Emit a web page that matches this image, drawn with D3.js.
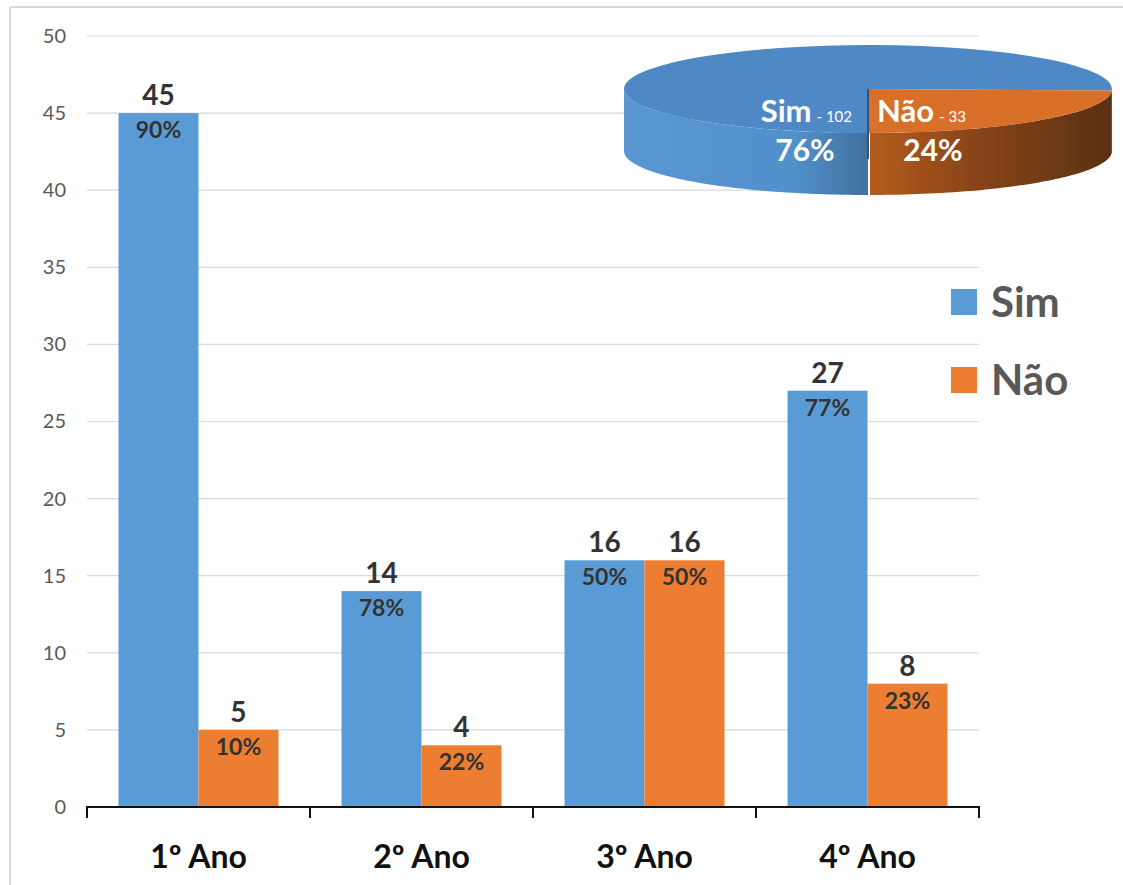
<!DOCTYPE html>
<html>
<head>
<meta charset="utf-8">
<script src="https://cdn.jsdelivr.net/npm/d3@7"></script>
<style>
  html, body { margin: 0; padding: 0; background: #fff; }
  svg { display: block; font-family: Lato, "Open Sans", sans-serif; }
</style>
</head>
<body>
<svg id="chart" width="1123" height="885"></svg>
<script>
// Respostas por ano
const categories = ["1º Ano", "2º Ano", "3º Ano", "4º Ano"];
const series = ["Sim", "Não"];
const simValues = [45, 14, 16, 27];
const naoValues = [5, 4, 16, 8];
const yTicks = [0, 5, 10, 15, 20, 25, 30, 35, 40, 45, 50];

// Totais gerais (pizza)
const totalLabels = ["Sim", "Não"];
const totalValues = [102, 33];

const colors = { "Sim": "#5b9bd5", "Não": "#ed7d31" };

const svg = d3.select("#chart");

// Moldura
svg.append("line").attr("x1", 10).attr("y1", 7).attr("x2", 10).attr("y2", 885)
  .attr("stroke", "#d9d9d9").attr("stroke-width", 2);
svg.append("line").attr("x1", 10).attr("y1", 7).attr("x2", 1123).attr("y2", 7)
  .attr("stroke", "#d9d9d9").attr("stroke-width", 2);

const x = d3.scaleBand().domain(categories).range([87, 979]).paddingInner(0).paddingOuter(0);
const xs = d3.scaleBand().domain(series).range([0, x.bandwidth()]).paddingInner(0).paddingOuter(0.394);
const y = d3.scaleLinear().domain([0, 50]).range([807, 36]);

// Grade
svg.append("g").selectAll("line").data(yTicks.filter(t => t > 0)).join("line")
  .attr("x1", 87).attr("x2", 979)
  .attr("y1", d => y(d)).attr("y2", d => y(d))
  .attr("stroke", "#d9d9d9").attr("stroke-width", 1.2);

// Eixo Y (rótulos)
const yAxis = svg.append("g").attr("transform", "translate(72,0)")
  .call(d3.axisLeft(y).tickValues(yTicks).tickSize(0).tickPadding(6));
yAxis.select(".domain").remove();
yAxis.selectAll("text").attr("font-size", 20).attr("fill", "#595959")
  .attr("font-family", "Lato, sans-serif");

// Barras
const rows = categories.map((c, i) => ({ cat: c, Sim: simValues[i], "Não": naoValues[i] }));
const barData = [];
rows.forEach(r => {
  const total = r.Sim + r["Não"];
  series.forEach(s => barData.push({ cat: r.cat, s, v: r[s], pct: Math.round(r[s] / total * 100) }));
});

const bars = svg.append("g");
bars.selectAll("rect").data(barData).join("rect")
  .attr("x", d => x(d.cat) + xs(d.s))
  .attr("width", xs.bandwidth())
  .attr("y", d => y(d.v))
  .attr("height", d => y(0) - y(d.v))
  .attr("fill", d => colors[d.s]);

// Valores acima das barras
bars.selectAll("text.val").data(barData).join("text").attr("class", "val")
  .attr("x", d => x(d.cat) + xs(d.s) + xs.bandwidth() / 2)
  .attr("y", d => y(d.v) - 8)
  .attr("text-anchor", "middle")
  .attr("font-size", 28).attr("font-weight", "bold").attr("fill", "#333")
  .text(d => d.v);

// Percentuais dentro das barras
bars.selectAll("text.pct").data(barData).join("text").attr("class", "pct")
  .attr("x", d => x(d.cat) + xs(d.s) + xs.bandwidth() / 2)
  .attr("y", d => y(d.v) + 25)
  .attr("text-anchor", "middle")
  .attr("font-size", 23).attr("font-weight", "bold").attr("fill", "#333")
  .text(d => d.pct + "%");

// Eixo X
const xAxis = svg.append("g").attr("transform", "translate(0,807)")
  .call(d3.axisBottom(x).tickSize(0).tickPadding(0));
xAxis.select(".domain").remove();
xAxis.selectAll("text").attr("font-size", 32).attr("font-weight", "bold").attr("fill", "#111")
  .attr("font-family", "Lato, sans-serif").attr("dy", 0).attr("y", 61);
svg.append("line").attr("x1", 87).attr("x2", 979).attr("y1", 807).attr("y2", 807)
  .attr("stroke", "#111").attr("stroke-width", 2);
const bounds = categories.map(c => x(c)).concat([x(categories[categories.length - 1]) + x.bandwidth()]);
svg.append("g").selectAll("line").data(bounds).join("line")
  .attr("x1", d => d).attr("x2", d => d).attr("y1", 806).attr("y2", 818)
  .attr("stroke", "#111").attr("stroke-width", 2);

// Legenda
const legend = svg.append("g");
series.forEach((s, i) => {
  const ly = 289 + i * 78;
  legend.append("rect").attr("x", 951).attr("y", ly).attr("width", 26).attr("height", 26).attr("fill", colors[s]);
  legend.append("text").attr("x", 991).attr("y", ly + 28)
    .attr("font-size", 42).attr("font-weight", "bold").attr("fill", "#595959").text(s);
});

// Pizza 3D
const cx = 868, cy = 89, rx = 244, ry = 44, depth = 62;
const pie = d3.pie().sort(null).value(d => d).startAngle(Math.PI).endAngle(3 * Math.PI);
const slices = pie(totalValues);
const topColors = ["#4f89c5", "#d8702a"];

const defs = svg.append("defs");
const gBlue = defs.append("linearGradient").attr("id", "sideSim").attr("x1", 0).attr("x2", 1).attr("y1", 0).attr("y2", 0);
gBlue.append("stop").attr("offset", "0%").attr("stop-color", "#5a97d2");
gBlue.append("stop").attr("offset", "70%").attr("stop-color", "#5190cb");
gBlue.append("stop").attr("offset", "100%").attr("stop-color", "#41709d");
const gOr = defs.append("linearGradient").attr("id", "sideNao").attr("x1", 0).attr("x2", 1).attr("y1", 0).attr("y2", 0);
gOr.append("stop").attr("offset", "0%").attr("stop-color", "#b55c1d");
gOr.append("stop").attr("offset", "45%").attr("stop-color", "#874418");
gOr.append("stop").attr("offset", "100%").attr("stop-color", "#5a3111");
const sideFills = ["url(#sideSim)", "url(#sideNao)"];

const px = a => cx + rx * Math.sin(a);
const py = a => cy - ry * Math.cos(a);

function wallPath(a0, a1) {
  const n = 60, top = [], bot = [];
  for (let k = 0; k <= n; k++) {
    const a = a0 + (a1 - a0) * k / n;
    top.push([px(a), py(a)]);
    bot.push([px(a), py(a) + depth]);
  }
  return d3.line()(top.concat(bot.reverse())) + "Z";
}

// Partes frontais visíveis de cada fatia
const pieG = svg.append("g");
slices.forEach((sl, i) => {
  for (let k = 0; k < 3; k++) {
    const lo = Math.max(sl.startAngle, Math.PI / 2 + 2 * Math.PI * k);
    const hi = Math.min(sl.endAngle, 3 * Math.PI / 2 + 2 * Math.PI * k);
    if (hi > lo) {
      pieG.append("path").attr("d", wallPath(lo, hi)).attr("fill", sideFills[i]);
    }
  }
});
// Separação na face lateral
pieG.append("line").attr("x1", cx + 1).attr("x2", cx + 1).attr("y1", cy + ry).attr("y2", cy + ry + depth)
  .attr("stroke", "#fff").attr("stroke-width", 2);

// Faces superiores
const arc = d3.arc().innerRadius(0).outerRadius(rx);
const topG = pieG.append("g").attr("transform", `translate(${cx},${cy}) scale(1,${ry / rx})`);
topG.selectAll("path").data(slices).join("path")
  .attr("d", arc).attr("fill", (d, i) => topColors[i]);
pieG.append("line").attr("x1", cx).attr("x2", cx).attr("y1", cy).attr("y2", cy + ry + 26)
  .attr("stroke", "#2f557c").attr("stroke-width", 2);

// Rótulos da pizza
const totalAll = d3.sum(totalValues);
const pieLabels = pieG.append("g").attr("fill", "#fff");
[
  { i: 0, anchor: "end", nx: cx - 16 },
  { i: 1, anchor: "start", nx: cx + 9 }
].forEach(o => {
  const t = pieLabels.append("text").attr("x", o.nx).attr("y", 122).attr("text-anchor", o.anchor);
  t.append("tspan").attr("font-size", 31).attr("font-weight", "bold").text(totalLabels[o.i]);
  t.append("tspan").attr("font-size", 15).attr("dx", 5).text("- " + totalValues[o.i]);
  pieLabels.append("text").attr("x", o.i === 0 ? cx - 63 : cx + 65).attr("y", 161)
    .attr("text-anchor", "middle").attr("font-size", 30).attr("font-weight", "bold")
    .text(Math.round(totalValues[o.i] / totalAll * 100) + "%");
});
</script>
</body>
</html>
